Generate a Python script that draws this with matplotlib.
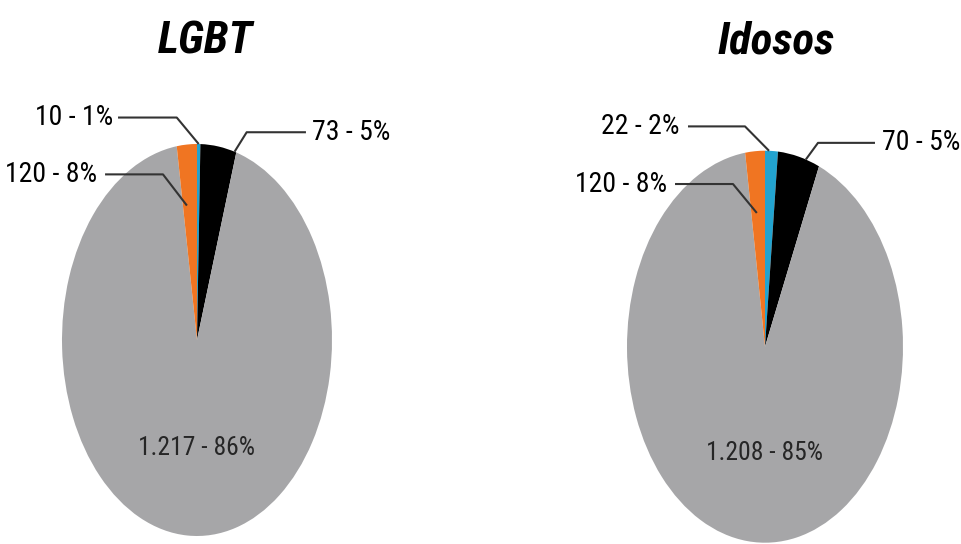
import matplotlib
matplotlib.use('Agg')
import matplotlib.pyplot as plt
from matplotlib import font_manager
import numpy as np

# Data (labels as printed, slice sizes as drawn in the picture)
titles = ['LGBT', 'Idosos']
lgbt_counts = ['10', '73', '1.217', '120']
lgbt_pcts = ['1%', '5%', '86%', '8%']
lgbt_slices = [0.4, 4.3, 92.9, 2.4]
idosos_counts = ['22', '70', '1.208', '120']
idosos_pcts = ['2%', '5%', '85%', '8%']
idosos_slices = [1.5, 4.9, 91.3, 2.3]

colors = ['#22A3CF', '#000000', '#A6A6A8', '#F07522']

# pick the narrowest font that is installed
names = {f.name for f in font_manager.fontManager.ttflist}
narrow = 'DejaVu Sans'
for cand in ['Liberation Sans Narrow', 'Roboto Condensed', 'Open Sans Condensed', 'Roboto']:
    if cand in names:
        narrow = cand
        break
fam = [narrow, 'DejaVu Sans']

fig = plt.figure(figsize=(9.62, 5.44), dpi=100)
W, H = 962.0, 544.0

outer_texts, inner_texts, title_texts = [], [], []


def draw_pie(ax, slices, counts, pcts, xlim, ylim, layout, inner_y, widths):
    wedges, _ = ax.pie(slices, colors=colors, startangle=90, counterclock=False,
                       radius=1, wedgeprops=dict(linewidth=0))
    ax.set_aspect('auto')
    ax.set_xlim(xlim)
    ax.set_ylim(ylim)
    for i, w in enumerate(wedges):
        label = f'{counts[i]} - {pcts[i]}'
        if i == 2:
            t = ax.text(0, inner_y, label, ha='center', va='center', fontsize=18,
                        color='#262626', family=fam)
            inner_texts.append((t, widths[i]))
            continue
        frac, r, ex, ey, tx, lx = layout[i]
        ang = np.radians(w.theta1 + frac * (w.theta2 - w.theta1))
        ax_, ay_ = r * np.cos(ang), r * np.sin(ang)
        ax.plot([lx, ex, ax_], [ey, ey, ay_], color='#333333', lw=1.5,
                clip_on=False, solid_capstyle='butt')
        ha = 'left' if tx > 0 else 'right'
        t = ax.text(tx, ey, label, ha=ha, va='center', fontsize=20, color='black',
                    family=fam)
        outer_texts.append((t, widths[i]))


# left pie: center (197, 340) px, semi axes 135 x 196
ax1 = fig.add_axes([0, 0, 481 / W, 1])
lay1 = {0: (0.5, 1.0, -0.15, 1.135, -0.62, -0.585),
        1: (0.05, 1.0, 0.368, 1.06, 0.85, 0.807),
        3: (0.72, 0.69, -0.252, 0.845, -0.743, -0.681)}
draw_pie(ax1, lgbt_slices, lgbt_counts, lgbt_pcts,
         (-197 / 135, (481 - 197) / 135), (-204 / 196, 340 / 196), lay1, -0.553,
         [73, 74, 110, 87])

# right pie: center (765, 347) px, semi axes 138 x 196
ax2 = fig.add_axes([481 / W, 0, 481 / W, 1])
lay2 = {0: (0.69, 1.0, -0.145, 1.124, -0.616, -0.558),
        1: (0.33, 1.0, 0.384, 1.04, 0.846, 0.797),
        3: (0.6, 0.685, -0.232, 0.83, -0.712, -0.652)}
draw_pie(ax2, idosos_slices, idosos_counts, idosos_pcts,
         ((481 - 765) / 138, (962 - 765) / 138), (-197.3 / 196, 346.7 / 196), lay2, -0.544,
         [70, 73, 107, 84])

for x, ttl, wd in [(205, titles[0], 90), (776, titles[1], 107)]:
    t = fig.text(x / W, 1 - 53 / H, ttl, ha='center', va='baseline', fontsize=32,
                 fontweight='bold', fontstyle='italic', family=fam)
    title_texts.append((t, wd))

# scale font sizes so the text widths match the picture
fig.canvas.draw()
rend = fig.canvas.get_renderer()
for group, cap in [(outer_texts, 22), (inner_texts, 19), (title_texts, 40)]:
    got = sum(t.get_window_extent(rend).width for t, _ in group)
    want = sum(wd for _, wd in group)
    fs = group[0][0].get_fontsize() * want / got
    # widen a little toward the taller letters of the picture
    fs = fs * 1.08
    for t, _ in group:
        t.set_fontsize(fs)

fig.savefig('out.png', dpi=100)
